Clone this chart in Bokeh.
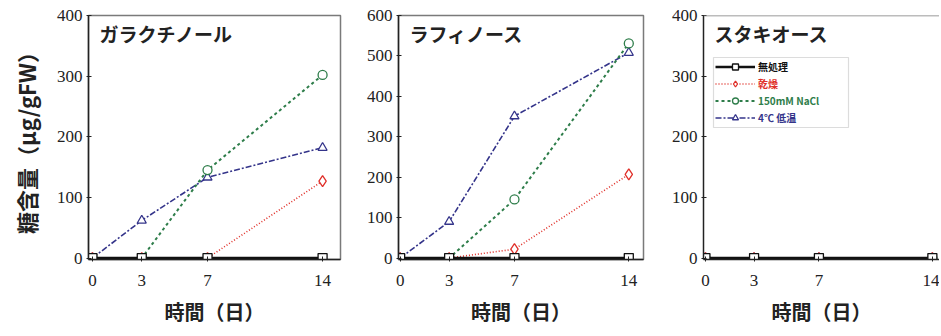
from bokeh.plotting import figure
from bokeh.layouts import row
from bokeh.models import (Range1d, FixedTicker, Label, Legend, LegendItem,
                          BoxAnnotation, Span, ColumnDataSource)
from bokeh.embed import file_html
from bokeh.resources import INLINE

# ---------------- data ----------------
days = [0, 3, 7, 14]
panel_titles = ["ガラクチノール", "ラフィノース", "スタキオース"]
series_names = ["無処理", "乾燥", "150mM NaCl", "4℃ 低温"]

galactinol_control = [0, 0, 0, 0]
galactinol_drought = [0, 0, 0, 127]
galactinol_nacl = [0, 0, 145, 302]
galactinol_cold = [0, 62, 133, 182]

raffinose_control = [0, 0, 0, 0]
raffinose_drought = [0, 0, 22, 207]
raffinose_nacl = [0, 0, 145, 531]
raffinose_cold = [0, 90, 351, 508]

stachyose_control = [0, 0, 0, 0]
stachyose_drought = [0, 0, 0, 0]
stachyose_nacl = [0, 0, 0, 0]
stachyose_cold = [0, 0, 0, 0]

y_max = [400, 600, 400]
y_ticks = [[0, 100, 200, 300, 400], [0, 100, 200, 300, 400, 500, 600], [0, 100, 200, 300, 400]]
x_ticks = [0, 3, 7, 14]

# ---------------- styles ----------------
styles = [
    dict(color="#111111", dash="solid", width=2.6, marker="square", size=9),
    dict(color="#e0302a", dash="1 2", width=1.6, marker="diamond", size=11),
    dict(color="#2e7d4a", dash="3 3", width=2.0, marker="circle", size=9),
    dict(color="#34348a", dash="6 2 2 2", width=1.6, marker="triangle", size=9),
]
draw_order = [3, 2, 1, 0]

JP = "Noto Sans CJK JP"
NUM = "Liberation Sans Narrow"

data = [
    [galactinol_control, galactinol_drought, galactinol_nacl, galactinol_cold],
    [raffinose_control, raffinose_drought, raffinose_nacl, raffinose_cold],
    [stachyose_control, stachyose_drought, stachyose_nacl, stachyose_cold],
]

geom = [
    dict(width=348, left=88, right=8, xr=(-0.24, 15.09)),
    dict(width=302, left=50, right=7, xr=(-0.1, 14.9)),
    dict(width=289, left=53, right=0, xr=(-0.12, 14.44)),
]

figs = []
for i in range(3):
    g = geom[i]
    ymax = y_max[i]
    p = figure(width=g["width"], height=328, output_backend="svg", toolbar_location=None,
               x_range=Range1d(*g["xr"]), y_range=Range1d(-ymax * 0.006, ymax),
               min_border_left=g["left"], min_border_right=g["right"],
               min_border_top=15, min_border_bottom=66)
    p.grid.visible = False
    if i < 2:
        p.outline_line_color = "#7a7a7a"
        p.outline_line_width = 1.5
    else:
        p.outline_line_color = None
        p.add_layout(Span(location=ymax, dimension="width", line_color="#7a7a7a", line_width=1.5))

    for ax in (p.xaxis[0], p.yaxis[0]):
        ax.axis_line_color = "#222222"
        ax.axis_line_width = 1.5
        ax.major_tick_line_color = "#222222"
        ax.minor_tick_line_color = None
        ax.major_label_text_font = NUM
        ax.major_label_text_font_size = "17px"
        ax.major_label_text_color = "#222222"
    p.xaxis.ticker = FixedTicker(ticks=x_ticks)
    p.yaxis.ticker = FixedTicker(ticks=y_ticks[i])
    p.xaxis.major_tick_in = 3
    p.xaxis.major_tick_out = 2
    p.yaxis.major_tick_in = 3
    p.yaxis.major_tick_out = 2
    p.xaxis.major_label_standoff = 13
    p.yaxis.major_label_standoff = 4
    p.xaxis.axis_label = "時間（日）"
    p.xaxis.axis_label_text_font = JP
    p.xaxis.axis_label_text_font_style = "bold"
    p.xaxis.axis_label_text_font_size = "20px"
    p.xaxis.axis_label_text_color = "#222222"
    p.xaxis.axis_label_standoff = 8
    if i == 0:
        p.yaxis.axis_label = "糖含量（μg/gFW）"
        p.yaxis.axis_label_text_font = JP
        p.yaxis.axis_label_text_font_style = "bold"
        p.yaxis.axis_label_text_font_size = "22px"
        p.yaxis.axis_label_text_color = "#222222"
        p.yaxis.axis_label_standoff = 12

    renderers = {}
    for k in draw_order:
        s = styles[k]
        src = ColumnDataSource(dict(x=days, y=data[i][k]))
        lr = p.line("x", "y", source=src, line_color=s["color"], line_width=s["width"],
                    line_dash=s["dash"])
        sr = p.scatter("x", "y", source=src, marker=s["marker"], size=s["size"],
                       fill_color="white", line_color=s["color"], line_width=1.3)
        renderers[k] = [lr, sr]

    p.add_layout(Label(x=11, y=240, x_units="screen", y_units="screen", text=panel_titles[i],
                       text_font=JP, text_font_style="bold", text_font_size="19px",
                       text_color="#222222", text_baseline="top"))

    if i == 2:
        p.add_layout(BoxAnnotation(left=10, right=145, bottom=132, top=202,
                                   left_units="screen", right_units="screen",
                                   bottom_units="screen", top_units="screen",
                                   fill_alpha=0, line_color="#8a8a8a", line_width=1.2))
        for k in range(4):
            leg = Legend(items=[LegendItem(label=series_names[k], renderers=renderers[k])],
                         location=(12, 185 - 17 * k), border_line_color=None,
                         background_fill_alpha=0, padding=0, margin=0, spacing=0,
                         glyph_width=40, glyph_height=15, label_height=15,
                         label_standoff=3, label_text_font=JP, label_text_font_size="10px",
                         label_text_font_style="bold", label_text_color=styles[k]["color"])
            p.add_layout(leg)
    figs.append(p)

layout = row(*figs, spacing=0)
open("out.html", "w").write(file_html(layout, INLINE))
